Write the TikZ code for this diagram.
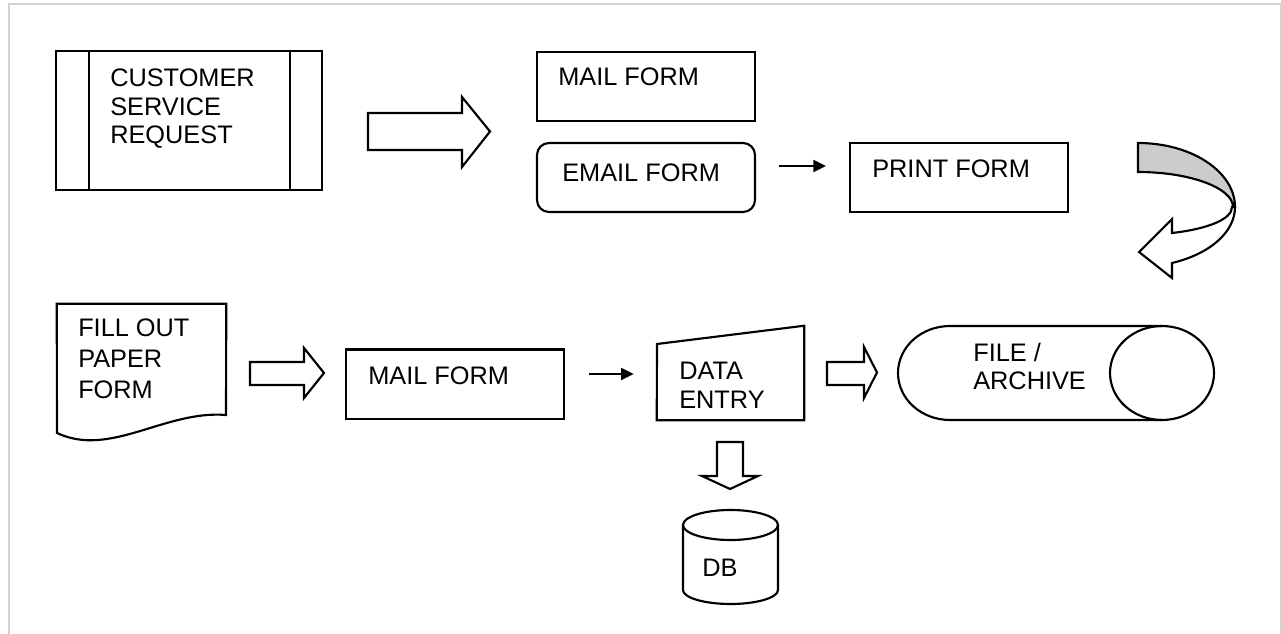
\documentclass[tikz,border=0pt]{standalone}
\usepackage{fontspec}
\setmainfont{Liberation Sans}
\usetikzlibrary{calc,arrows.meta}
\definecolor{framegray}{RGB}{210,210,210}
\definecolor{bandgray}{RGB}{204,204,204}
\tikzset{
  outline/.style={draw=black, line width=1.6pt, line join=miter},
  box/.style={outline, rectangle, inner sep=0pt},
  ghost/.style={rectangle, inner sep=0pt},
  % multi-line labels are anchored at the baseline of their last line
  lbl/.style={anchor=base west, inner sep=0pt, align=left,
    font=\fontsize{19pt}{21.4pt}\selectfont},
  lblwide/.style={lbl, font=\fontsize{19pt}{22.9pt}\selectfont},
  thinarrow/.style={draw=black, line width=1.6pt,
    -{Triangle[length=9.5pt,width=9pt]}},
  fatarrow/.style={outline, fill=white}
}
\begin{document}
\begin{tikzpicture}[x=0.75pt, y=-0.75pt]
\useasboundingbox (0,0) rectangle (1281,634);

% page frame
\draw[framegray, line width=1.5pt] (8.5,634) -- (8.5,4.5) -- (1281,4.5);
\draw[framegray, line width=0.8pt] (1280.4,4.5) -- (1280.4,634);

% ---------- upper row ----------
% predefined process
\node[box, minimum width=199.5pt, minimum height=104.25pt] (csr) at (189,120.5) {};
\draw[outline] ($(csr.north west)+(34,0)$) -- ($(csr.south west)+(34,0)$);
\draw[outline] ($(csr.north east)+(-33,0)$) -- ($(csr.south east)+(-33,0)$);
\node[lbl] (csrt) at (110,144) {CUSTOMER\\SERVICE\\REQUEST};

% block arrow to the form options
\draw[fatarrow] (368,113) -- (462,113) -- (462,97) -- (490,131.5) -- (462,167)
  -- (462,150) -- (368,150) -- cycle;

\node[box, minimum width=163.5pt, minimum height=51.75pt] (mailA) at (646,86.5) {};
\node[lbl] (mailAt) at (558,85.5) {MAIL FORM};

\node[box, rounded corners=9pt, minimum width=163.5pt, minimum height=51.75pt] (email) at (646,177.5) {};
\node[lbl] (emailt) at (562,182) {EMAIL FORM};

\node[box, minimum width=163.5pt, minimum height=51.75pt] (print) at (959,177.5) {};
\node[lbl] (printt) at (872,178) {PRINT FORM};

\draw[thinarrow] ($(email.east)+(23,-11.5)$) -- ($(print.west)+(-23,-11.5)$);

% curved return arrow
\draw[outline, fill=bandgray]
  (1138,143) .. controls (1192,143) and (1235,172) .. (1235,207)
  -- (1233,207) .. controls (1233,188) and (1190,172) .. (1138,172) -- cycle;
\draw[outline, fill=white]
  (1235,207) .. controls (1235,232) and (1210,254) .. (1172,263)
  -- (1172,278) -- (1139,252) -- (1172,219) -- (1172,233)
  .. controls (1208.6,228.8) and (1232,219) .. (1232,207) -- cycle;

% ---------- lower row ----------
% document
\node[ghost, minimum width=126.75pt, minimum height=102.75pt] (paper) at (141.5,372.5) {};
\draw[outline] (paper.north west) -- (paper.north east) -- (226,415)
  .. controls (165,410) and (110,458) .. (57,433) -- cycle;
\node[lblwide] (papert) at (78,398) {FILL OUT\\PAPER\\FORM};

\draw[fatarrow] (250,362) -- (304,362) -- (304,348) -- (324,373) -- (304,398)
  -- (304,385) -- (250,385) -- cycle;

\node[box, minimum width=163.5pt, minimum height=52.1pt] (mailB) at (455,384.25) {};
\node[lbl] (mailBt) at (368,385) {MAIL FORM};

% manual input
\node[ghost, minimum width=110.25pt, minimum height=70.5pt] (entry) at (730.5,373) {};
\draw[outline] (657,344) -- (entry.north east) -- (entry.south east)
  -- (entry.south west) -- cycle;
\node[lbl] (entryt) at (679,408) {DATA\\ENTRY};

\draw[thinarrow] ($(mailB.east)+(24,-10.25)$) -- ($(entry.west)+(-23,1)$);

\draw[fatarrow] (827,362) -- (864,362) -- (864,347) -- (877,372.5) -- (864,398)
  -- (864,385) -- (827,385) -- cycle;

% stored data (horizontal cylinder)
\node[ghost, minimum width=237pt, minimum height=70.5pt] (archive) at (1056,373) {};
\draw[outline] (1162,326) -- (950,326)
  .. controls (921.3,326) and (898,347) .. (898,373)
  .. controls (898,399) and (921.3,420) .. (950,420) -- (1162,420);
\draw[outline] (1162,373) ellipse [x radius=39pt, y radius=35.25pt];
\node[lbl] (archivet) at (973,390) {FILE /\\ARCHIVE};

% down arrow to the database
\draw[fatarrow] (717,442) -- (743,442) -- (743,476) -- (758,476) -- (730,489)
  -- (702,476) -- (717,476) -- cycle;

% database cylinder
\node[ghost, minimum width=71.25pt, minimum height=70.5pt] (db) at (730.5,557) {};
\draw[outline] (683,525) -- (683,590)
  .. controls (683,597.7) and (704.3,604) .. (730.5,604)
  .. controls (756.7,604) and (778,597.7) .. (778,590) -- (778,525);
\draw[outline] (730.5,525) ellipse [x radius=35.6pt, y radius=11.25pt];
\node[lbl] (dbt) at (702,576) {DB};
\end{tikzpicture}
\end{document}
